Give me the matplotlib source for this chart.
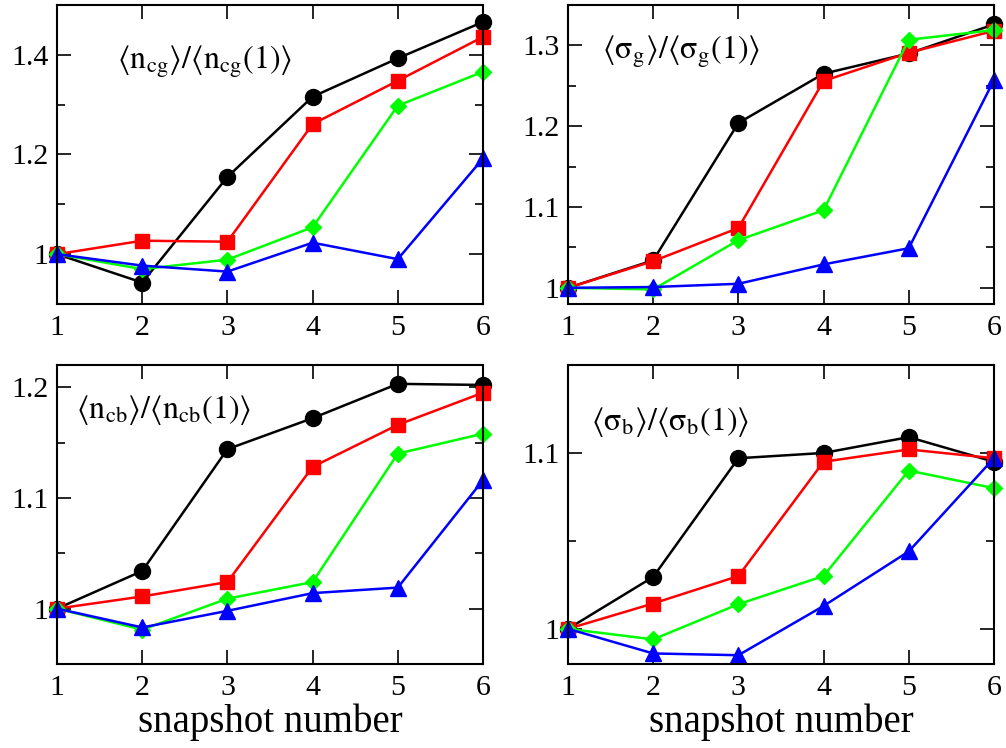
import matplotlib
matplotlib.use("Agg")
import matplotlib.pyplot as plt
from matplotlib.ticker import MultipleLocator

plt.rcParams['font.family'] = ['Liberation Serif', 'DejaVu Serif']
plt.rcParams['mathtext.fontset'] = 'stix'

snapshots = [1, 2, 3, 4, 5, 6]

# <n_cg>/<n_cg(1)>
ncg_black = [1.0, 0.943, 1.155, 1.316, 1.393, 1.466]
ncg_red = [1.0, 1.027, 1.025, 1.261, 1.348, 1.436]
ncg_green = [1.0, 0.970, 0.989, 1.054, 1.298, 1.366]
ncg_blue = [1.0, 0.977, 0.965, 1.023, 0.990, 1.192]

# <sigma_g>/<sigma_g(1)>
sg_black = [1.0, 1.034, 1.204, 1.265, 1.290, 1.326]
sg_red = [1.0, 1.033, 1.074, 1.256, 1.291, 1.318]
sg_green = [1.0, 0.998, 1.059, 1.096, 1.307, 1.319]
sg_blue = [1.0, 1.001, 1.005, 1.029, 1.049, 1.257]

# <n_cb>/<n_cb(1)>
ncb_black = [1.0, 1.034, 1.144, 1.172, 1.203, 1.202]
ncb_red = [1.0, 1.011, 1.024, 1.128, 1.166, 1.195]
ncb_green = [1.0, 0.981, 1.009, 1.024, 1.140, 1.158]
ncb_blue = [1.0, 0.983, 0.998, 1.014, 1.019, 1.116]

# <sigma_b>/<sigma_b(1)>
sb_black = [1.0, 1.0295, 1.097, 1.100, 1.109, 1.095]
sb_red = [1.0, 1.0144, 1.030, 1.095, 1.102, 1.097]
sb_green = [1.0, 0.994, 1.014, 1.030, 1.090, 1.080]
sb_blue = [1.0, 0.986, 0.985, 1.013, 1.044, 1.097]

styles = [('black', 'o', 11.5), ('#ff0000', 's', 9.5), ('#00ff00', 'D', 8.5), ('#0000ff', '^', 11.5)]

panels = [
    ([ncg_black, ncg_red, ncg_green, ncg_blue],
     r'$\langle \mathrm{n}_{\mathrm{cg}}\rangle/\langle \mathrm{n}_{\mathrm{cg}}(1)\rangle$',
     (0.9, 1.5), 0.2, 0.1, (0.14, 0.81)),
    ([sg_black, sg_red, sg_green, sg_blue],
     r'$\langle \mathrm{σ}_{\mathrm{g}}\rangle/\langle \mathrm{σ}_{\mathrm{g}}(1)\rangle$',
     (0.98, 1.35), 0.1, 0.05, (0.08, 0.845)),
    ([ncb_black, ncb_red, ncb_green, ncb_blue],
     r'$\langle \mathrm{n}_{\mathrm{cb}}\rangle/\langle \mathrm{n}_{\mathrm{cb}}(1)\rangle$',
     (0.95, 1.22), 0.1, 0.05, (0.045, 0.85)),
    ([sb_black, sb_red, sb_green, sb_blue],
     r'$\langle \mathrm{σ}_{\mathrm{b}}\rangle/\langle \mathrm{σ}_{\mathrm{b}}(1)\rangle$',
     (0.98, 1.15), 0.1, 0.05, (0.055, 0.81)),
]

positions = [
    [0.0567, 0.5936, 0.4234, 0.3997],
    [0.5646, 0.5936, 0.4234, 0.3997],
    [0.0567, 0.1123, 0.4234, 0.3997],
    [0.5646, 0.1123, 0.4234, 0.3997],
]

fig = plt.figure(figsize=(10.06, 7.48), dpi=100)

for k, (series, label, ylim, major, minor, txt) in enumerate(panels):
    ax = fig.add_axes(positions[k])
    for ys, (c, m, ms) in zip(series, styles):
        ax.plot(snapshots, ys, color=c, marker=m, markersize=ms, lw=1.8,
                clip_on=False)
    ax.set_xlim(1, 6)
    ax.set_ylim(*ylim)
    ax.xaxis.set_major_locator(MultipleLocator(1))
    ax.yaxis.set_major_locator(MultipleLocator(major))
    ax.yaxis.set_minor_locator(MultipleLocator(minor))
    ax.yaxis.set_major_formatter(lambda v, p: ('%g' % round(v, 3)))
    ax.tick_params(which='both', direction='in', top=True, right=True,
                   labelsize=21.5, width=1.2)
    ax.tick_params(which='major', length=10)
    ax.tick_params(axis='x', which='major', pad=8)
    ax.tick_params(axis='y', which='major', pad=6)
    ax.tick_params(which='minor', length=6)
    for s in ax.spines.values():
        s.set_linewidth(1.5)
    ax.text(txt[0], txt[1], label, transform=ax.transAxes, fontsize=23,
            va='center', ha='left')
    if k >= 2:
        ax.set_xlabel('snapshot number', fontsize=28, labelpad=2)

fig.savefig('out.png', dpi=100)
